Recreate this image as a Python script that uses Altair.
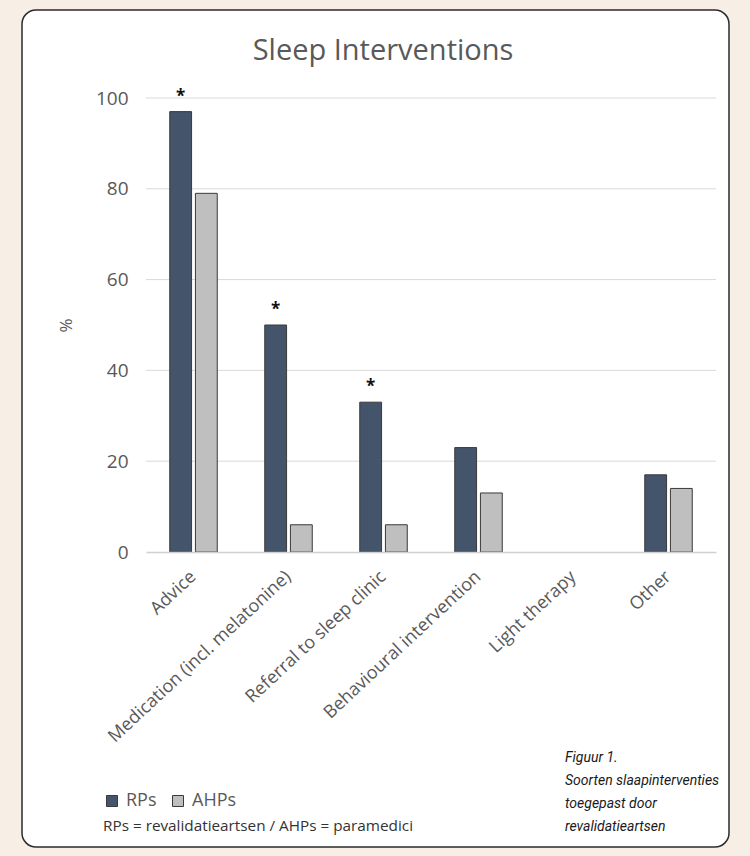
import altair as alt
import pandas as pd

categories = ["Advice", "Medication (incl. melatonine)", "Referral to sleep clinic",
              "Behavioural intervention", "Light therapy", "Other"]
rps = [97, 50, 33, 23, 0, 17]
ahps = [79, 6, 6, 13, 0, 14]
significant = [True, True, True, False, False, False]
groups = ["RPs", "AHPs"]
group_colors = ["#44546a", "#bfbfbf"]
y_ticks = [0, 20, 40, 60, 80, 100]
title_text = "Sleep Interventions"
footnote = "RPs = revalidatieartsen / AHPs = paramedici"
caption = "Figuur 1.\nSoorten slaapinterventies\ntoegepast door\nrevalidatieartsen"

rows = []
for c, r, a, s in zip(categories, rps, ahps, significant):
    rows.append({"cat": c, "group": "RPs", "value": r, "sig": "*" if s else ""})
    rows.append({"cat": c, "group": "AHPs", "value": a, "sig": ""})
df = pd.DataFrame(rows)

FONT = "Open Sans"
W, H = 570, 454

xscale = alt.Scale(domain=categories, paddingInner=0.5, paddingOuter=0.25)
xoff = alt.Scale(domain=groups, paddingInner=0.15, paddingOuter=0)
yscale = alt.Scale(domain=[0, 100])

base = alt.Chart(df)

box = alt.Chart(pd.DataFrame({"k": [0]})).mark_rect(
    fill="white", stroke="#2b2b2b", strokeWidth=1.5, cornerRadius=14
).encode(x=alt.value(-124), x2=alt.value(583), y=alt.value(-88), y2=alt.value(749))

grid = alt.Chart(pd.DataFrame({"v": y_ticks[1:]})).mark_rule(
    color="#d9d9d9", strokeWidth=1
).encode(y=alt.Y("v:Q", scale=yscale), x=alt.value(0), x2=alt.value(W))

bars = base.transform_filter("datum.value > 0").mark_bar(
    stroke="#3a3a3a", strokeWidth=1
).encode(
    x=alt.X("cat:N", scale=xscale, sort=categories, title=None,
            axis=alt.Axis(labelAngle=-43, labelAlign="right", labelBaseline="middle",
                          labelFontSize=18, labelColor="#595959", labelFont=FONT,
                          domainColor="#d0d0d0", domainWidth=1.5, ticks=False,
                          labelPadding=22, labelLimit=400, grid=False, zindex=1)),
    xOffset=alt.XOffset("group:N", scale=xoff, sort=groups),
    y=alt.Y("value:Q", scale=yscale, title="%",
            axis=alt.Axis(values=y_ticks, labelFontSize=19,
                          labelColor="#595959", labelFont=FONT, ticks=False,
                          domain=False, grid=False, labelPadding=18, zindex=1,
                          titleFontSize=17, titleColor="#595959", titleFont=FONT,
                          titleFontWeight="normal", titlePadding=20)),
    color=alt.Color("group:N", scale=alt.Scale(domain=groups, range=group_colors),
                    sort=groups,
                    legend=alt.Legend(orient="none", legendX=-43, legendY=694,
                                      direction="horizontal", title=None,
                                      symbolType="square", symbolSize=121,
                                      symbolStrokeColor="#3a3a3a", symbolStrokeWidth=1,
                                      labelFontSize=18, labelColor="#595959",
                                      labelFont=FONT, columnPadding=12, labelOffset=5,
                                      symbolOpacity=1)),
)

stars = base.transform_filter("datum.sig != ''").mark_text(
    fontSize=17, fontWeight="bold", color="#111111", dy=-15, font=FONT
).encode(
    x=alt.X("cat:N", scale=xscale, sort=categories),
    xOffset=alt.XOffset("group:N", scale=xoff, sort=groups),
    y=alt.Y("value:Q", scale=yscale),
    text="sig:N",
)

title = alt.Chart(pd.DataFrame({"t": [title_text]})).mark_text(
    fontSize=29, color="#595959", font=FONT, align="center", baseline="alphabetic"
).encode(x=alt.value(237), y=alt.value(-38), text="t:N")

foot = alt.Chart(pd.DataFrame({"t": [footnote]})).mark_text(
    fontSize=15.3, color="#333333", font=FONT, align="left", baseline="middle"
).encode(x=alt.value(-43), y=alt.value(728), text="t:N")

cap = alt.Chart(pd.DataFrame({"t": [caption]})).mark_text(
    fontSize=14, color="#1a1a1a", font="Roboto",
    fontStyle="italic", align="left", baseline="middle", lineBreak="\n", lineHeight=23
).encode(x=alt.value(419), y=alt.value(660), text="t:N")

chart = alt.layer(box, grid, bars, stars, title, foot, cap).properties(
    width=W, height=H,
    autosize=alt.AutoSizeParams(type="none"),
    padding={"left": 146, "top": 98, "right": 34, "bottom": 304},
    background="#f7efe6",
).configure_view(stroke=None)

chart.save("out.html", embed_options={"renderer": "svg", "actions": False})
